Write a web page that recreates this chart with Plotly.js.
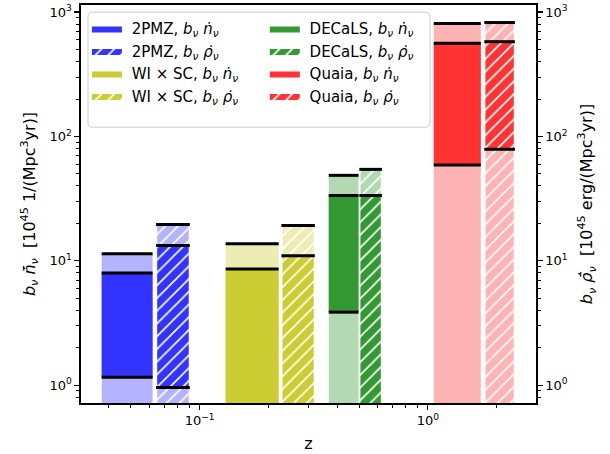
<!DOCTYPE html>
<html>
<head>
<meta charset="utf-8">
<script src="https://cdn.plot.ly/plotly-3.0.1.min.js"></script>
<style>body{margin:0;padding:0;background:#fff}#plot{width:610px;height:454px}</style>
</head>
<body>
<div id="plot"></div>
<script>
// ---- data ----
const surveys = ['2PMZ', 'WI × SC', 'DECaLS', 'Quaia'];
// z ranges of the two bars per survey
const nZlo = [0.0372, 0.130, 0.368, 1.062];
const nZhi = [0.0622, 0.222, 0.497, 1.707];
const rZlo = [0.0652, 0.231, 0.507, 1.790];
const rZhi = [0.0895, 0.316, 0.622, 2.380];
// b_nu * n-dot values (upper, central, lower)
const nTop = [11.4, 13.7, 48.7, 809];
const nMid = [8.0, 8.6, 33.5, 561];
const nLow = [1.16, null, 3.87, 58.9];
// b_nu * rho-dot values (upper, central, lower)
const rTop = [19.6, 19.2, 54.4, 824];
const rMid = [13.3, 11.0, 33.5, 578];
const rLow = [0.96, null, null, 78.9];

const solidColors = ['#3333ff', '#cccc33', '#339933', '#ff3333'];
const lightColors = ['#b3b3ff', '#ececb3', '#b3d9b3', '#ffb3b3'];
const legendCols = ['legend', 'legend', 'legend2', 'legend2'];

const BOTTOM = 0.05; // below the visible axis range
const ext = 1.012;

const nLab = '<i>b</i><sub><i>ν</i></sub> <i>ṅ</i><sub><i>ν</i></sub>';
const rLab = '<i>b</i><sub><i>ν</i></sub> <i>ρ̇</i><sub><i>ν</i></sub>';

function rect(x0, x1, y0, y1) {
  return {x: [x0, x1, x1, x0, x0], y: [y0, y0, y1, y1, y0]};
}

const traces = [];
for (let i = 0; i < surveys.length; i++) {
  const pat = {shape: '/', fgcolor: 'white', fgopacity: 1, size: 9, solidity: 0.18};
  // light full bars
  let r = rect(nZlo[i], nZhi[i], BOTTOM, nTop[i]);
  traces.push({x: r.x, y: r.y, mode: 'lines', line: {width: 0}, fill: 'toself',
    fillcolor: lightColors[i], showlegend: false, hoverinfo: 'skip'});
  r = rect(rZlo[i], rZhi[i], BOTTOM, rTop[i]);
  traces.push({x: r.x, y: r.y, mode: 'lines', line: {width: 0}, fill: 'toself',
    fillcolor: lightColors[i], fillpattern: Object.assign({bgcolor: lightColors[i]}, pat),
    showlegend: false, hoverinfo: 'skip'});
  // solid segments
  r = rect(nZlo[i], nZhi[i], nLow[i] === null ? BOTTOM : nLow[i], nMid[i]);
  traces.push({x: r.x, y: r.y, mode: 'lines', line: {width: 0}, fill: 'toself',
    fillcolor: solidColors[i], name: ' ' + surveys[i] + ', ' + nLab,
    legend: legendCols[i], legendgroup: 'n' + i,
    showlegend: true, hoverinfo: 'skip'});
  r = rect(rZlo[i], rZhi[i], rLow[i] === null ? BOTTOM : rLow[i], rMid[i]);
  traces.push({x: r.x, y: r.y, mode: 'lines', line: {width: 0}, fill: 'toself',
    fillcolor: solidColors[i], fillpattern: Object.assign({bgcolor: solidColors[i]}, pat),
    name: ' ' + surveys[i] + ', ' + rLab, legend: legendCols[i], legendgroup: 'r' + i,
    showlegend: true, hoverinfo: 'skip'});
}
// black level lines
const lx = [], ly = [];
for (let i = 0; i < surveys.length; i++) {
  [nLow[i], nMid[i], nTop[i]].forEach(v => {
    if (v !== null) { lx.push(nZlo[i], nZhi[i], null); ly.push(v, v, null); }
  });
  [rLow[i], rMid[i], rTop[i]].forEach(v => {
    if (v !== null) { lx.push(rZlo[i] / ext, rZhi[i] * ext, null); ly.push(v, v, null); }
  });
}
traces.push({x: lx, y: ly, mode: 'lines', line: {color: 'black', width: 3},
  showlegend: false, hoverinfo: 'skip'});
// invisible trace to activate the right-hand axis
traces.push({x: [0.1], y: [1], yaxis: 'y2', mode: 'markers', marker: {opacity: 0},
  showlegend: false, hoverinfo: 'skip'});

function minorVals(lo, hi) {
  const v = [];
  for (let e = lo; e <= hi; e++) for (let m = 2; m <= 9; m++) v.push(m * Math.pow(10, e));
  return v;
}

const yRange = [Math.log10(0.72), Math.log10(1140)];
const fontFam = 'DejaVu Sans, sans-serif';
const yTickVals = [1, 10, 100, 1000];
const yTickText = ['10<sup>0</sup>', '10<sup>1</sup>', '10<sup>2</sup>', '10<sup>3</sup>'];

// legend frame (paper coords), rounded corners
const bx0 = 0.0154, bx1 = 0.767, by0 = 0.693, by1 = 0.982, rx = 0.009, ry = 0.010;
const framePath = `M ${bx0 + rx} ${by0} L ${bx1 - rx} ${by0} Q ${bx1} ${by0} ${bx1} ${by0 + ry} ` +
  `L ${bx1} ${by1 - ry} Q ${bx1} ${by1} ${bx1 - rx} ${by1} L ${bx0 + rx} ${by1} ` +
  `Q ${bx0} ${by1} ${bx0} ${by1 - ry} L ${bx0} ${by0 + ry} Q ${bx0} ${by0} ${bx0 + rx} ${by0} Z`;

const legendCommon = {
  yanchor: 'top', xanchor: 'left', y: 0.982,
  bgcolor: 'rgba(0,0,0,0)', borderwidth: 0,
  font: {family: fontFam, size: 15}, itemwidth: 30, tracegroupgap: 2.5,
  orientation: 'v', traceorder: 'normal'
};

const layout = {
  width: 610, height: 454,
  margin: {l: 81, r: 74, t: 5, b: 51},
  paper_bgcolor: 'white', plot_bgcolor: 'white',
  font: {family: fontFam, size: 13, color: 'black'},
  showlegend: true,
  legend: Object.assign({x: 0.013}, legendCommon),
  legend2: Object.assign({x: 0.404}, legendCommon),
  shapes: [{type: 'path', xref: 'paper', yref: 'paper', path: framePath,
    fillcolor: 'rgba(255,255,255,0.8)', line: {color: '#cccccc', width: 1}, layer: 'above'}],
  xaxis: {
    type: 'log', range: [Math.log10(0.0302), Math.log10(2.98)],
    showgrid: false, zeroline: false, showline: true, linecolor: 'black', linewidth: 1.6, mirror: true,
    ticks: 'outside', ticklen: 5, tickwidth: 1.2, tickcolor: 'black',
    tickmode: 'array', tickvals: [0.1, 1], ticktext: ['10<sup>−1</sup>', '10<sup>0</sup>'],
    minor: {tickmode: 'array', tickvals: minorVals(-2, 0), ticklen: 3, tickwidth: 1, tickcolor: 'black', ticks: 'outside', showgrid: false},
    title: {text: 'z', font: {size: 16}, standoff: 10},
    tickfont: {size: 13}
  },
  yaxis: {
    type: 'log', range: yRange,
    showgrid: false, zeroline: false, showline: true, linecolor: 'black', linewidth: 1.6, mirror: true,
    ticks: 'outside', ticklen: 5, tickwidth: 1.2, tickcolor: 'black',
    tickmode: 'array', tickvals: yTickVals, ticktext: yTickText,
    minor: {tickmode: 'array', tickvals: minorVals(-1, 3), ticklen: 3, tickwidth: 1, tickcolor: 'black', ticks: 'outside', showgrid: false},
    title: {text: '<i>b</i><sub><i>ν</i></sub> <i>n̄̇</i><sub><i>ν</i></sub>  [10<sup>45</sup> 1/(Mpc<sup>3</sup>yr)]', font: {size: 16}, standoff: 10},
    tickfont: {size: 13}
  },
  yaxis2: {
    type: 'log', range: yRange, overlaying: 'y', side: 'right',
    showgrid: false, zeroline: false, showline: true, linecolor: 'black', linewidth: 1.6,
    ticks: 'outside', ticklen: 5, tickwidth: 1.2, tickcolor: 'black',
    tickmode: 'array', tickvals: yTickVals, ticktext: yTickText,
    minor: {tickmode: 'array', tickvals: minorVals(-1, 3), ticklen: 3, tickwidth: 1, tickcolor: 'black', ticks: 'outside', showgrid: false},
    title: {text: '<i>b</i><sub><i>ν</i></sub> <i>ρ̄̇</i><sub><i>ν</i></sub>  [10<sup>45</sup> erg/(Mpc<sup>3</sup>yr)]', font: {size: 16}, standoff: 14},
    tickfont: {size: 13}
  }
};

Plotly.newPlot('plot', traces, layout, {staticPlot: true, displayModeBar: false});
</script>
</body>
</html>
